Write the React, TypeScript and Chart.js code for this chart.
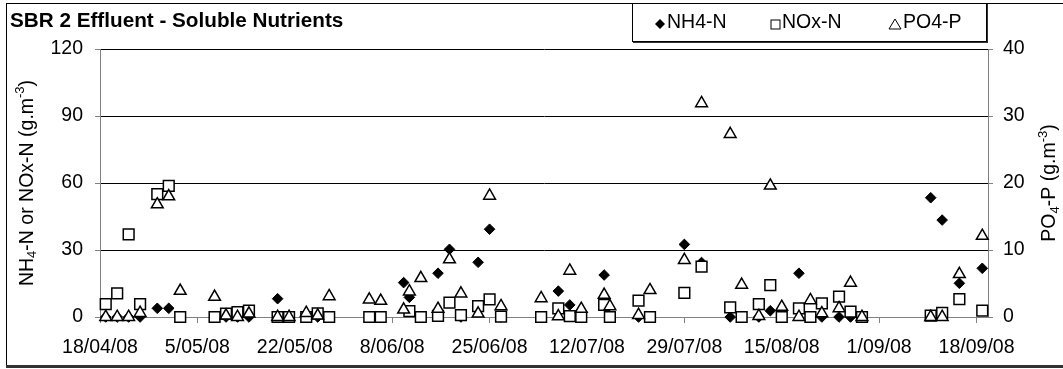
import React, { useEffect, useRef } from 'react';
import { Chart, registerables } from 'chart.js';

Chart.register(...registerables);

const FONT = 'Arial, "Liberation Sans", Helvetica, sans-serif';

const chartTitle = 'SBR 2 Effluent - Soluble Nutrients';
const axisStart = '18/04/08';
const axisEnd = '20/09/08';
const xTickLabels = ['18/04/08', '5/05/08', '22/05/08', '8/06/08', '25/06/08', '12/07/08', '29/07/08', '15/08/08', '1/09/08', '18/09/08'];
const leftTicks = [0, 30, 60, 90, 120];
const rightTicks = [0, 10, 20, 30, 40];
const seriesNames = ['NH4-N', 'NOx-N', 'PO4-P'];

// Sampling dates (dd/mm/yy) and measured effluent concentrations, g/m3
const sampleDates = [
  '19/04/08', '21/04/08', '23/04/08', '25/04/08', '28/04/08', '30/04/08', '2/05/08',
  '8/05/08', '10/05/08', '12/05/08', '14/05/08', '19/05/08', '21/05/08', '24/05/08',
  '26/05/08', '28/05/08', '4/06/08', '6/06/08', '10/06/08', '11/06/08', '13/06/08',
  '16/06/08', '18/06/08', '20/06/08', '23/06/08', '25/06/08', '27/06/08', '4/07/08',
  '7/07/08', '9/07/08', '11/07/08', '15/07/08', '16/07/08', '21/07/08', '23/07/08',
  '29/07/08', '1/08/08', '6/08/08', '8/08/08', '11/08/08', '13/08/08', '15/08/08',
  '18/08/08', '20/08/08', '22/08/08', '25/08/08', '27/08/08', '29/08/08', '10/09/08',
  '12/09/08', '15/09/08', '19/09/08',
];
const nh4N: (number | null)[] = [
  0, 0, 0, 0, 3.9, 3.9, 0,
  0, 0, 0, 0, 8.2, 0, 0,
  0, 0, 0, 0, 15.4, 8.8, 0,
  19.6, 30.3, 0, 24.5, 39.3, 0, 0,
  11.6, 5.4, 0, 18.8, null, 0, 0,
  32.5, 24.4, 0, 0, 0, 2.8, 0,
  19.6, 0, 0, 0, 0, 0, 53.4,
  43.4, 15.1, 21.8,
];
const noxN: (number | null)[] = [
  5.8, 10.6, 37, 5.8, 55, 58.7, 0,
  0, 1.5, 2.2, 2.8, 0, 0, 0,
  1.6, 0, 0, 0, null, 2.6, 0,
  0.5, 6.4, 0.8, 4.9, 7.9, 0.2, 0,
  3.9, 0.4, 0, 5.4, 0, 7.3, 0,
  10.8, 22.6, 4.3, 0, 5.8, 14.3, 0,
  3.9, 0, 6.1, 9.1, 2.4, 0, 0.6,
  1.8, 8.0, 2.8,
];
const po4P: (number | null)[] = [
  0, 0, 0, 0.6, 16.8, 18.0, 3.9,
  3.0, 0.2, 0, 0.5, 0, 0, 0.6,
  0.2, 3.1, 2.6, 2.4, 1.1, 3.8, 5.8,
  1.2, 8.6, 3.5, 0.5, 18.1, 1.6, 2.8,
  0.1, 6.9, 1.2, 3.3, 1.6, 0.3, 4.0,
  8.5, 31.9, 27.3, 4.8, 0.15, 19.6, 1.5,
  0, 2.5, 0.55, 1.3, 5.1, 0, 0,
  0, 6.4, 12.1,
];

function absDay(label: string): number {
  const [d, m, y] = label.split('/').map(Number);
  return Math.round(Date.UTC(2000 + y, m - 1, d) / 86400000);
}
const dayIndex = (label: string) => absDay(label) - absDay(axisStart);

const toPoints = (vals: (number | null)[]) =>
  sampleDates
    .map((d, i) => ({ x: dayIndex(d), y: vals[i] }))
    .filter((p) => p.y !== null) as { x: number; y: number }[];

type Seg = { t: string; k?: 'sub' | 'sup' };

// Rotated axis title with sub/superscript runs
function drawRich(ctx: CanvasRenderingContext2D, segs: Seg[], cx: number, cy: number, size: number) {
  ctx.save();
  ctx.translate(cx, cy);
  ctx.rotate(-Math.PI / 2);
  const small = Math.round(size * 0.66);
  const fontFor = (s: Seg) => `${s.k ? small : size}px ${FONT}`;
  let total = 0;
  for (const s of segs) {
    ctx.font = fontFor(s);
    total += ctx.measureText(s.t).width;
  }
  let x = -total / 2;
  ctx.textAlign = 'left';
  ctx.textBaseline = 'alphabetic';
  ctx.fillStyle = '#000';
  for (const s of segs) {
    ctx.font = fontFor(s);
    const dy = s.k === 'sub' ? size * 0.2 : s.k === 'sup' ? -size * 0.42 : 0;
    ctx.fillText(s.t, x, dy);
    x += ctx.measureText(s.t).width;
  }
  ctx.restore();
}

function diamond(ctx: CanvasRenderingContext2D, x: number, y: number, r: number) {
  ctx.beginPath();
  ctx.moveTo(x, y - r);
  ctx.lineTo(x + r, y);
  ctx.lineTo(x, y + r);
  ctx.lineTo(x - r, y);
  ctx.closePath();
  ctx.fillStyle = '#000';
  ctx.fill();
}

function square(ctx: CanvasRenderingContext2D, x: number, y: number, s: number) {
  ctx.fillStyle = '#fff';
  ctx.fillRect(x - s / 2, y - s / 2, s, s);
  ctx.lineWidth = 1;
  ctx.strokeStyle = '#000';
  ctx.strokeRect(x - s / 2, y - s / 2, s, s);
}

function triangle(ctx: CanvasRenderingContext2D, x: number, y: number, w: number, h: number) {
  ctx.beginPath();
  ctx.moveTo(x, y - h / 2);
  ctx.lineTo(x + w / 2, y + h / 2);
  ctx.lineTo(x - w / 2, y + h / 2);
  ctx.closePath();
  ctx.fillStyle = '#fff';
  ctx.fill();
  ctx.lineWidth = 1;
  ctx.strokeStyle = '#000';
  ctx.stroke();
}

const decorations = {
  id: 'decorations',
  beforeDraw(chart: Chart) {
    const ctx = chart.ctx;
    ctx.save();
    ctx.fillStyle = '#fff';
    ctx.fillRect(0, 0, chart.width, chart.height);
    ctx.restore();
  },
  afterDraw(chart: Chart) {
    const ctx = chart.ctx;
    const area = chart.chartArea;
    const midY = (area.top + area.bottom) / 2;
    ctx.save();

    // outer frame: top and left edges, dark shadow along the bottom
    ctx.fillStyle = '#000';
    ctx.fillRect(6, 3, 1057, 1);
    ctx.fillRect(6, 3, 1, 363);
    ctx.fillStyle = '#333';
    ctx.fillRect(6, 365, 1057, 3);

    // title
    ctx.fillStyle = '#000';
    ctx.font = `bold 20.7px ${FONT}`;
    ctx.textAlign = 'left';
    ctx.textBaseline = 'alphabetic';
    ctx.fillText(chartTitle, 10, 27);

    // legend box
    ctx.fillStyle = '#fff';
    ctx.fillRect(633, 4, 353, 38);
    ctx.strokeStyle = '#000';
    ctx.lineWidth = 1;
    ctx.strokeRect(632.5, 3.5, 354, 38);
    ctx.fillStyle = '#333';
    ctx.fillRect(633, 42, 355, 1);
    ctx.fillRect(987, 4, 1, 39);

    diamond(ctx, 660, 24, 5);
    square(ctx, 775.5, 24.5, 9);
    triangle(ctx, 895, 24, 12, 10);
    ctx.fillStyle = '#000';
    ctx.font = `19.5px ${FONT}`;
    ctx.fillText(seriesNames[0], 667, 28);
    ctx.fillText(seriesNames[1], 782, 28);
    ctx.fillText(seriesNames[2], 903, 28);

    // axis titles
    drawRich(ctx, [{ t: 'NH' }, { t: '4', k: 'sub' }, { t: '-N or NOx-N (g.m' }, { t: '-3', k: 'sup' }, { t: ')' }], 32.5, midY, 19.5);
    drawRich(ctx, [{ t: 'PO' }, { t: '4', k: 'sub' }, { t: '-P (g.m' }, { t: '-3', k: 'sup' }, { t: ')' }], 1055, midY, 19.5);

    ctx.restore();
  },
};

const tickFont = { family: FONT, size: 19.5 };

export default function App() {
  const canvasRef = useRef<HTMLCanvasElement | null>(null);

  useEffect(() => {
    const canvas = canvasRef.current;
    if (!canvas) return;
    const xTickDays = xTickLabels.map(dayIndex);

    const chart = new Chart(canvas, {
      type: 'scatter',
      data: {
        datasets: [
          {
            label: seriesNames[0],
            data: toPoints(nh4N),
            yAxisID: 'y',
            pointStyle: 'rectRot',
            pointRadius: 5.3,
            pointBackgroundColor: '#000',
            pointBorderColor: '#000',
            pointBorderWidth: 1,
            order: 3,
            clip: false,
          },
          {
            label: seriesNames[1],
            data: toPoints(noxN),
            yAxisID: 'y',
            pointStyle: 'rect',
            pointRadius: 7.6,
            pointBackgroundColor: '#fff',
            pointBorderColor: '#000',
            pointBorderWidth: 1.5,
            order: 2,
            clip: false,
          },
          {
            label: seriesNames[2],
            data: toPoints(po4P),
            yAxisID: 'y2',
            pointStyle: 'triangle',
            pointRadius: 6.8,
            pointBackgroundColor: '#fff',
            pointBorderColor: '#000',
            pointBorderWidth: 1.5,
            order: 1,
            clip: false,
          },
        ],
      },
      options: {
        responsive: false,
        animation: false,
        events: [],
        layout: { padding: { top: 49, left: 0, right: 0, bottom: 0 } },
        plugins: { legend: { display: false }, title: { display: false }, tooltip: { enabled: false } },
        scales: {
          x: {
            type: 'linear',
            min: 0,
            max: dayIndex(axisEnd),
            afterBuildTicks: (s: any) => {
              s.ticks = xTickDays.map((v) => ({ value: v }));
            },
            afterFit: (s: any) => {
              s.height = 52;
            },
            grid: { drawOnChartArea: false, drawTicks: true, tickLength: 6, color: '#808080', lineWidth: 1 },
            border: { color: '#808080', width: 1 },
            ticks: {
              autoSkip: false,
              maxRotation: 0,
              minRotation: 0,
              padding: 13,
              color: '#000',
              font: tickFont,
              callback: (_v: any, i: number) => xTickLabels[i],
            },
          },
          y: {
            position: 'left',
            min: 0,
            max: 120,
            afterBuildTicks: (s: any) => {
              s.ticks = leftTicks.map((v) => ({ value: v }));
            },
            afterFit: (s: any) => {
              s.width = 100;
            },
            grid: {
              color: (c: any) => (c.tick && c.tick.value === 0 ? 'rgba(0,0,0,0)' : '#000'),
              tickColor: '#808080',
              tickLength: 5,
              lineWidth: 1,
            },
            border: { color: '#808080', width: 1 },
            ticks: { padding: 12, color: '#000', font: tickFont },
          },
          y2: {
            position: 'right',
            min: 0,
            max: 40,
            afterBuildTicks: (s: any) => {
              s.ticks = rightTicks.map((v) => ({ value: v }));
            },
            afterFit: (s: any) => {
              s.width = 75;
            },
            grid: { drawOnChartArea: false, tickColor: '#808080', tickLength: 5, lineWidth: 1 },
            border: { color: '#808080', width: 1 },
            ticks: { padding: 10, color: '#000', font: tickFont },
          },
        },
      },
      plugins: [decorations],
    } as any);

    return () => chart.destroy();
  }, []);

  return (
    <div style={{ position: 'absolute', left: 0, top: 0, width: 1063, height: 369, background: '#fff' }}>
      <canvas ref={canvasRef} width={1063} height={369} style={{ display: 'block', width: 1063, height: 369 }} />
    </div>
  );
}
